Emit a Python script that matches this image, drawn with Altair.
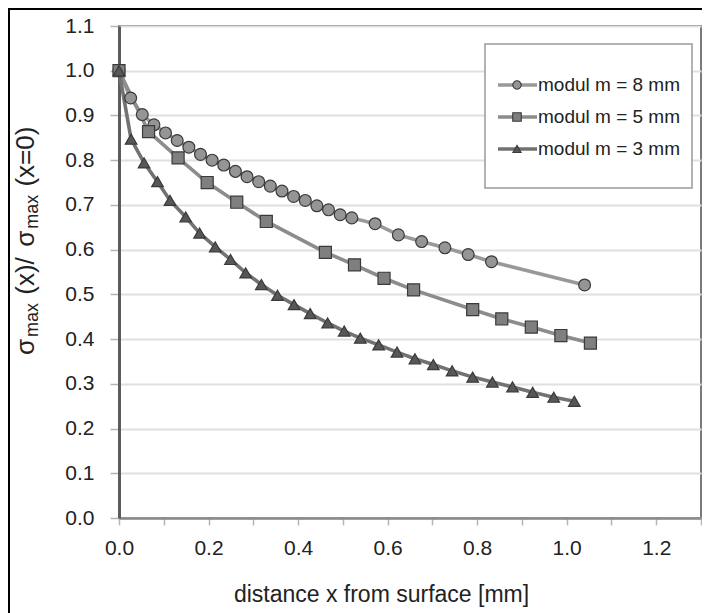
import altair as alt
import pandas as pd

# ---------------- data ----------------
series_names = ["modul m = 8 mm", "modul m = 5 mm", "modul m = 3 mm"]

x_m8 = [0.0, 0.026, 0.052, 0.078, 0.104, 0.130, 0.156, 0.182, 0.208, 0.234,
        0.260, 0.286, 0.312, 0.338, 0.364, 0.390, 0.416, 0.442, 0.468, 0.494,
        0.520, 0.572, 0.624, 0.676, 0.728, 0.780, 0.832, 1.040]
y_m8 = [1.0, 0.939, 0.902, 0.879, 0.861, 0.844, 0.829, 0.813, 0.800, 0.789,
        0.775, 0.763, 0.752, 0.742, 0.731, 0.719, 0.710, 0.698, 0.689, 0.678,
        0.671, 0.658, 0.633, 0.618, 0.604, 0.589, 0.573, 0.521]

x_m5 = [0.0, 0.066, 0.132, 0.197, 0.263, 0.329, 0.461, 0.526, 0.592, 0.658,
        0.790, 0.855, 0.921, 0.987, 1.053]
y_m5 = [1.0, 0.864, 0.805, 0.750, 0.706, 0.663, 0.594, 0.566, 0.536, 0.510,
        0.466, 0.445, 0.427, 0.408, 0.391]

x_m3 = [0.0, 0.027, 0.056, 0.086, 0.114, 0.149, 0.180, 0.215, 0.249, 0.283,
        0.318, 0.354, 0.391, 0.427, 0.466, 0.503, 0.539, 0.580, 0.621, 0.661,
        0.702, 0.744, 0.790, 0.834, 0.879, 0.924, 0.971, 1.017]
y_m3 = [1.0, 0.847, 0.794, 0.752, 0.710, 0.673, 0.637, 0.606, 0.578, 0.548,
        0.522, 0.498, 0.477, 0.457, 0.436, 0.418, 0.402, 0.387, 0.371, 0.356,
        0.343, 0.329, 0.315, 0.304, 0.293, 0.281, 0.270, 0.261]

x_ticks = [0.0, 0.1, 0.2, 0.3, 0.4, 0.5, 0.6, 0.7, 0.8, 0.9, 1.0, 1.1, 1.2, 1.3]
y_ticks = [0.0, 0.1, 0.2, 0.3, 0.4, 0.5, 0.6, 0.7, 0.8, 0.9, 1.0, 1.1]

x_title = "distance x from surface [mm]"
# y title pieces: (text, is_subscript)
y_title_parts = [("σ", False), ("max", True), ("(x)/", False),
                 ("σ", False), ("max", True), ("(x=0)", False)]

# ---------------- styling ----------------
FONT = "Liberation Sans"
TXT = "#222222"
line_colors = ["#999999", "#8c8c8c", "#727272"]
fill_colors = ["#959595", "#7f7f7f", "#575757"]
shapes = ["circle", "square", "triangle-up"]
sizes = [140, 145, 135]

W, H = 582, 492

rows = []
for name, xs, ys in zip(series_names, [x_m8, x_m5, x_m3], [y_m8, y_m5, y_m3]):
    for a, b in zip(xs, ys):
        rows.append({"series": name, "x": a, "y": b})
df = pd.DataFrame(rows)

xscale = alt.Scale(domain=[0, 1.3], nice=False, zero=False)
yscale = alt.Scale(domain=[0, 1.1], nice=False)

x_axis = alt.Axis(
    values=x_ticks,
    labelExpr="round(datum.value*10) % 2 == 0 ? format(datum.value, '.1f') : ''",
    title=x_title, grid=False,
    labelFont=FONT, labelFontSize=21, labelColor=TXT, labelPadding=12,
    tickColor="#b5b5b5", tickSize=7, tickWidth=1.5,
    domainColor="#8a8a8a", domainWidth=2.5,
    titleFont=FONT, titleFontSize=23, titleFontWeight="normal", titleColor=TXT,
    titleY=83, titleBaseline="alphabetic", titleX=262, titleAlign="center",
    titleAnchor="start", labelFlush=False,
)
y_axis = alt.Axis(
    values=y_ticks, format=".1f", title=None, grid=True,
    gridColor="#e0e0e0", gridWidth=2,
    labelFont=FONT, labelFontSize=21, labelColor=TXT, labelPadding=16,
    tickColor="#b5b5b5", tickSize=9, tickWidth=1.5,
    domainColor="#5c5c5c", domainWidth=3,
)

X = alt.X("x:Q", scale=xscale, axis=x_axis)
Y = alt.Y("y:Q", scale=yscale, axis=y_axis)

base = alt.Chart(df)

lines = base.mark_line(strokeWidth=3.6).encode(
    x=X, y=Y,
    color=alt.Color("series:N", scale=alt.Scale(domain=series_names, range=line_colors), legend=None),
    detail="series:N",
)

point_layers = []
for name, shp, fc, sz in zip(series_names, shapes, fill_colors, sizes):
    point_layers.append(
        base.transform_filter(alt.datum.series == name)
        .mark_point(shape=shp, filled=True, fill=fc, stroke="#3a3a3a",
                    strokeWidth=1.2, size=sz, opacity=1)
        .encode(x=X, y=Y)
    )

main = alt.layer(lines, *point_layers)

# ---------------- legend (built from the series names) ----------------
leg_df = pd.DataFrame({"series": series_names})
leg_y = alt.Y("series:N", scale=alt.Scale(domain=series_names, range=[43, 139], padding=0), axis=None)
leg_base = alt.Chart(leg_df)

leg_box = alt.Chart(pd.DataFrame({"k": [0]})).mark_rect(
    fill="white", stroke="#9a9a9a", strokeWidth=1.5
).encode(x=alt.value(366), x2=alt.value(573), y=alt.value(18), y2=alt.value(162))

leg_lines = leg_base.mark_rule(strokeWidth=3.6).encode(
    x=alt.value(379), x2=alt.value(418), y=leg_y,
    color=alt.Color("series:N", scale=alt.Scale(domain=series_names, range=line_colors), legend=None),
)
leg_pts = []
for name, shp, fc, sz in zip(series_names, shapes, fill_colors, sizes):
    leg_pts.append(
        leg_base.transform_filter(alt.datum.series == name)
        .mark_point(shape=shp, filled=True, fill=fc, stroke="#3a3a3a",
                    strokeWidth=1.1, size=sz * 0.5, opacity=1)
        .encode(x=alt.value(398), y=leg_y)
    )
leg_text = leg_base.mark_text(align="left", baseline="middle", font=FONT,
                              fontSize=19, color=TXT).encode(
    x=alt.value(419), y=leg_y, text="series:N")

legend = alt.layer(leg_box, leg_lines, *leg_pts, leg_text)

# ---------------- y title with subscripts ----------------
one = pd.DataFrame({"k": [0]})
title_layers = []
pos = 329.0
main_size, sub_size = 26, 18
for txt, sub in y_title_parts:
    fs = sub_size if sub else main_size
    xb = -81 if sub else -85
    title_layers.append(
        alt.Chart(one).mark_text(angle=270, align="left", baseline="alphabetic",
                                 font=FONT, fontSize=fs, color=TXT)
        .encode(x=alt.value(xb), y=alt.value(pos), text=alt.value(txt))
    )
    adv = {"σ": 0.62, "max": 1.95, "(x)/": 1.50, "(x=0)": 2.35}[txt] * fs
    gap = {"σ": 2, "max": 7, "(x)/": 9, "(x=0)": 0}[txt]
    pos -= adv + gap

# ---------------- outer frame (top and left edges) ----------------
frame = alt.layer(
    alt.Chart(one).mark_rule(color="black", strokeWidth=2).encode(
        x=alt.value(-111), x2=alt.value(583), y=alt.value(-17)),
    alt.Chart(one).mark_rule(color="black", strokeWidth=2).encode(
        x=alt.value(-110), y=alt.value(-18), y2=alt.value(587)),
)

chart = alt.layer(main, legend, *title_layers, frame).resolve_scale(
    y="independent"
).properties(
    width=W, height=H,
    autosize=alt.AutoSizeParams(type="none"),
    padding={"left": 111, "top": 18, "right": 1, "bottom": 95},
    background="white",
).configure_view(
    stroke="#7a7a7a", strokeWidth=2
)

chart.save("out.html", embed_options={"renderer": "svg", "actions": False})
